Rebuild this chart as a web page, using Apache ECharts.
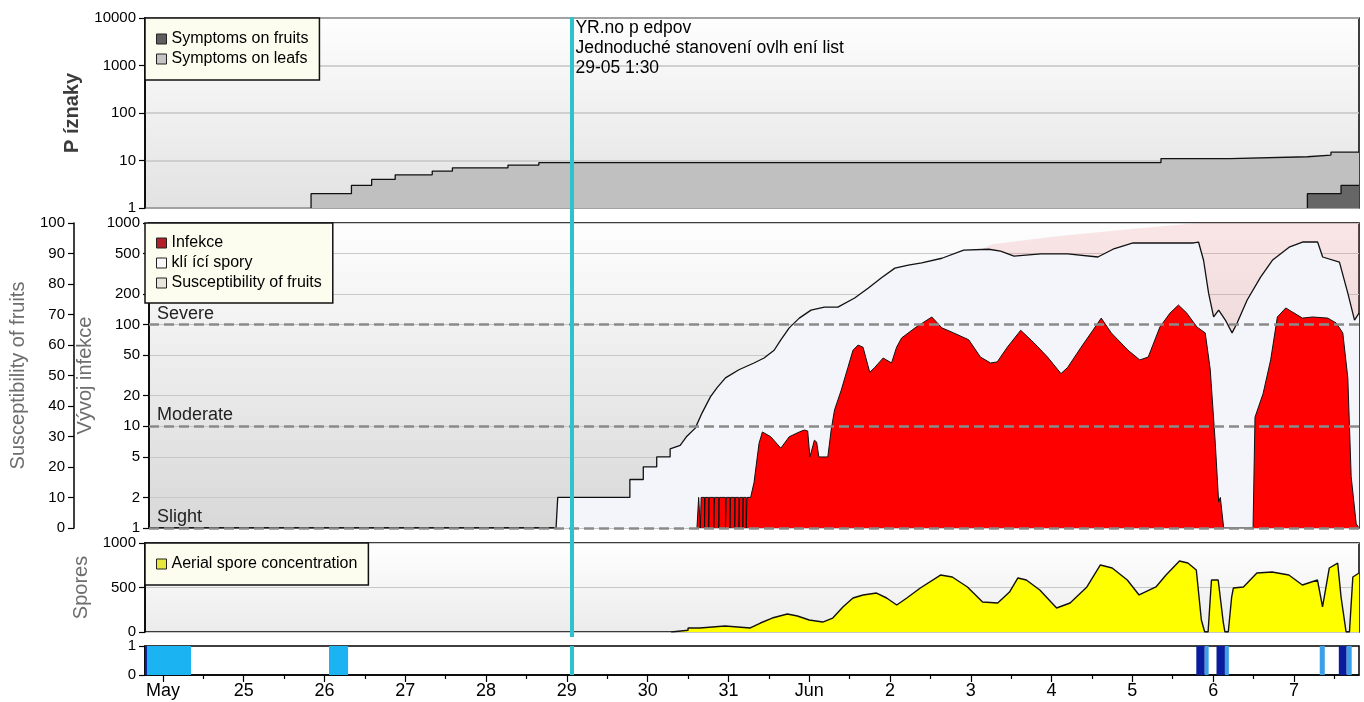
<!DOCTYPE html>
<html>
<head>
<meta charset="utf-8">
<title>Příznaky / Vývoj infekce</title>
<script src="https://cdn.jsdelivr.net/npm/echarts@6/dist/echarts.min.js"></script>
<style>
  html, body { margin: 0; padding: 0; background: #fff; }
  #chart { width: 1364px; height: 702px; }
</style>
</head>
<body>
<div id="chart"></div>
<script>
const YEAR = 2014
const FONT = '"Liberation Sans", Arial, sans-serif'

// time range of the x axis and the forecast marker
const axisStart = '05-23 18:40'
const axisEnd = '06-07 19:20'
const forecastTime = '05-29 01:30'
const forecastNote = ['YR.no p edpov', 'Jednoduché stanovení ovlh ení list', '29-05 1:30']

// x tick labels
const dayStarts = ['05-24', '05-25', '05-26', '05-27', '05-28', '05-29', '05-30', '05-31', '06-01', '06-02', '06-03', '06-04', '06-05', '06-06', '06-07']
const dayLabels = ['May', '25', '26', '27', '28', '29', '30', '31', 'Jun', '2', '3', '4', '5', '6', '7']

// y tick labels
const infectionTicks = [1, 2, 5, 10, 20, 50, 100, 200, 500, 1000]
const severityLevels = [1, 10, 100]
const severityLabels = ['Slight', 'Moderate', 'Severe']

// panel 1: symptoms (steps, value holds from the given time)
const leafSymptoms = [
  ['05-25 20:00', 1], ['05-25 20:00', 2], ['05-26 08:00', 3], ['05-26 14:00', 4], ['05-26 21:00', 5],
  ['05-27 08:00', 6], ['05-27 14:00', 7], ['05-28 06:30', 8], ['05-28 15:40', 9], ['06-05 08:30', 11],
  ['06-06 05:00', 12], ['06-07 04:00', 13], ['06-07 11:00', 15], ['06-07 19:20', 15]
]
const fruitSymptoms = [
  ['06-07 04:00', 1], ['06-07 04:00', 2], ['06-07 14:00', 3], ['06-07 19:20', 3]
]

// panel 2: infection development
const sporeGermination = [
  ['05-23 18:40', 1], ['05-28 20:00', 1], ['05-28 20:30', 2], ['05-29 18:00', 2], ['05-29 18:00', 3],
  ['05-29 22:00', 3], ['05-29 22:00', 4], ['05-30 02:00', 4], ['05-30 02:00', 5], ['05-30 06:00', 5],
  ['05-30 06:00', 6], ['05-30 09:00', 6.5], ['05-30 11:00', 8], ['05-30 13:30', 9.6], ['05-30 15:30', 13.5],
  ['05-30 18:00', 19.5], ['05-30 20:00', 24], ['05-30 22:30', 30], ['05-31 02:30', 36], ['05-31 07:00', 42],
  ['05-31 10:00', 47], ['05-31 13:00', 56], ['05-31 15:00', 71], ['05-31 17:30', 93], ['05-31 20:30', 116],
  ['06-01 00:00', 139], ['06-01 04:00', 149], ['06-01 08:00', 149], ['06-01 13:00', 183], ['06-01 17:00', 228],
  ['06-01 21:00', 289], ['06-02 01:00', 360], ['06-02 05:00', 386], ['06-02 09:00', 405], ['06-02 15:00', 450],
  ['06-02 21:30', 540], ['06-03 05:00', 552], ['06-03 08:30', 530], ['06-03 12:30', 473], ['06-03 20:30', 496],
  ['06-04 04:30', 496], ['06-04 13:30', 463], ['06-04 18:00', 552], ['06-05 00:00', 636], ['06-05 08:00', 636],
  ['06-05 18:00', 636], ['06-05 19:30', 650], ['06-05 21:00', 430], ['06-05 22:30', 204], ['06-06 00:00', 119],
  ['06-06 01:30', 139], ['06-06 03:30', 111], ['06-06 05:30', 83], ['06-06 07:00', 104], ['06-06 10:00', 175],
  ['06-06 14:00', 294], ['06-06 17:30', 430], ['06-06 22:30', 578], ['06-07 02:30', 650], ['06-07 07:00', 650],
  ['06-07 08:30', 463], ['06-07 13:30', 413], ['06-07 16:00', 204], ['06-07 18:00', 111], ['06-07 19:20', 130]
]
const infection = [
  ['05-30 14:00', 1], ['05-30 14:30', 1], ['05-30 14:30', 2], ['05-30 15:00', 2], ['05-30 15:00', 1],
  ['05-30 15:15', 1], ['05-30 15:15', 2], ['05-30 16:15', 2], ['05-30 16:15', 1], ['05-30 16:25', 1],
  ['05-30 16:25', 2], ['05-30 17:30', 2], ['05-30 17:30', 1], ['05-30 17:40', 1], ['05-30 17:40', 2],
  ['05-30 19:00', 2], ['05-30 19:00', 1], ['05-30 19:15', 1], ['05-30 19:15', 2], ['05-30 20:30', 2],
  ['05-30 20:30', 1], ['05-30 20:40', 1], ['05-30 20:40', 2], ['05-30 22:30', 2], ['05-30 22:30', 1],
  ['05-30 22:45', 1], ['05-30 22:45', 2], ['05-30 23:50', 2], ['05-30 23:50', 1], ['05-31 00:00', 1],
  ['05-31 00:00', 2], ['05-31 01:15', 2], ['05-31 01:15', 1], ['05-31 01:25', 1], ['05-31 01:25', 2],
  ['05-31 02:30', 2], ['05-31 02:30', 1], ['05-31 02:45', 1], ['05-31 02:45', 2], ['05-31 03:40', 2],
  ['05-31 03:40', 1], ['05-31 03:50', 1], ['05-31 03:50', 2], ['05-31 04:40', 2], ['05-31 04:40', 1],
  ['05-31 04:55', 1], ['05-31 04:55', 2], ['05-31 06:00', 2],
  ['05-31 07:00', 2.8], ['05-31 08:30', 6.8], ['05-31 09:30', 8.8], ['05-31 10:00', 9.2], ['05-31 12:00', 7.9],
  ['05-31 15:00', 6.1], ['05-31 17:30', 7.9], ['05-31 20:30', 8.8], ['05-31 22:00', 9.2], ['05-31 23:00', 9],
  ['05-31 23:40', 5], ['06-01 01:00', 7.3], ['06-01 01:40', 7], ['06-01 02:20', 5], ['06-01 05:00', 5],
  ['06-01 06:00', 9.2], ['06-01 07:00', 14.5], ['06-01 09:00', 22.7], ['06-01 11:00', 38], ['06-01 12:30', 56],
  ['06-01 14:00', 63], ['06-01 15:30', 60], ['06-01 17:30', 34], ['06-01 19:00', 38], ['06-01 21:30', 47],
  ['06-02 00:00', 42], ['06-02 01:30', 60], ['06-02 03:00', 74], ['06-02 07:00', 93], ['06-02 12:00', 119],
  ['06-02 15:00', 93], ['06-02 18:30', 83], ['06-02 23:00', 71], ['06-03 02:30', 48], ['06-03 05:30', 42],
  ['06-03 07:30', 43], ['06-03 10:30', 60], ['06-03 14:30', 88], ['06-03 18:30', 66], ['06-03 22:30', 48],
  ['06-04 02:30', 33], ['06-04 04:30', 38], ['06-04 08:30', 60], ['06-04 12:00', 88], ['06-04 14:30', 116],
  ['06-04 17:30', 83], ['06-04 22:30', 56], ['06-05 02:00', 45], ['06-05 04:30', 48], ['06-05 08:00', 95],
  ['06-05 11:00', 130], ['06-05 13:30', 156], ['06-05 16:00', 130], ['06-05 19:00', 95], ['06-05 21:30', 83],
  ['06-05 23:00', 36], ['06-06 00:30', 6.8], ['06-06 01:30', 1.8], ['06-06 02:00', 2], ['06-06 02:30', 2],
  ['06-06 03:00', 1], ['06-06 11:45', 1], ['06-06 12:20', 12.3], ['06-06 14:45', 21], ['06-06 17:00', 45],
  ['06-06 19:00', 119], ['06-06 21:30', 146], ['06-06 23:30', 133], ['06-07 02:30', 116], ['06-07 05:30', 119],
  ['06-07 10:00', 116], ['06-07 12:30', 104], ['06-07 14:30', 83], ['06-07 16:00', 30], ['06-07 17:00', 3.2],
  ['06-07 18:30', 1.1], ['06-07 19:20', 1]
]
const fruitSusceptibility = [
  ['05-23 18:40', 0], ['05-30 12:00', 0], ['05-31 12:00', 35], ['06-01 12:00', 65], ['06-02 12:00', 84],
  ['06-03 06:00', 93], ['06-04 00:00', 95.5], ['06-04 18:00', 97.5], ['06-05 12:00', 99.3], ['06-05 20:00', 100],
  ['06-07 19:20', 100]
]

// panel 3: aerial spores
const aerialSpores = [
  ['05-30 07:00', 0], ['05-30 07:00', 20], ['05-30 12:00', 20], ['05-30 12:00', 45], ['05-30 15:30', 45],
  ['05-30 15:30', 67], ['05-30 23:00', 67], ['05-30 23:00', 45], ['05-31 06:30', 45], ['05-31 09:30', 101],
  ['05-31 13:00', 157], ['05-31 17:30', 202], ['05-31 20:30', 180], ['06-01 00:00', 135], ['06-01 04:00', 112],
  ['06-01 07:00', 157], ['06-01 10:00', 281], ['06-01 13:00', 382], ['06-01 16:00', 416], ['06-01 20:00', 438],
  ['06-01 23:00', 382], ['06-02 02:00', 303], ['06-02 05:00', 382], ['06-02 09:00', 494], ['06-02 15:00', 640],
  ['06-02 18:30', 618], ['06-02 23:00', 506], ['06-03 03:30', 337], ['06-03 08:00', 326], ['06-03 11:30', 449],
  ['06-03 14:00', 607], ['06-03 16:30', 584], ['06-03 20:30', 472], ['06-04 01:30', 270], ['06-04 05:30', 326],
  ['06-04 10:30', 506], ['06-04 14:30', 753], ['06-04 18:00', 719], ['06-04 22:30', 584], ['06-05 02:00', 416],
  ['06-05 07:00', 506], ['06-05 10:00', 640], ['06-05 14:00', 798], ['06-05 16:30', 775], ['06-05 19:00', 697],
  ['06-05 20:30', 135], ['06-05 21:30', 0], ['06-05 22:30', 0], ['06-05 23:30', 584], ['06-06 01:30', 584],
  ['06-06 03:00', 112], ['06-06 03:30', 0], ['06-06 04:30', 0], ['06-06 05:30', 393], ['06-06 06:00', 494],
  ['06-06 09:00', 506], ['06-06 13:00', 663], ['06-06 17:30', 674], ['06-06 22:30', 640], ['06-07 02:30', 528],
  ['06-07 07:00', 584], ['06-07 08:30', 281], ['06-07 09:00', 270], ['06-07 10:30', 719], ['06-07 13:00', 775],
  ['06-07 14:00', 393], ['06-07 15:30', 0], ['06-07 16:30', 0], ['06-07 17:30', 618], ['06-07 19:20', 663]
]

// panel 4: wetness strip [from, to, level]
const wetness = [
  ['05-23 18:40', '05-23 19:15', 1], ['05-23 19:15', '05-24 08:20', 0], ['05-26 01:20', '05-26 07:00', 0],
  ['06-05 19:00', '06-05 21:30', 1], ['06-05 21:30', '06-05 22:40', 2],
  ['06-06 01:00', '06-06 03:30', 1], ['06-06 03:30', '06-06 04:40', 2],
  ['06-07 07:40', '06-07 09:10', 2],
  ['06-07 13:20', '06-07 15:40', 1], ['06-07 15:40', '06-07 17:10', 2]
]
const wetnessColors = ['#1cb3f3', '#0a1c9c', '#3d9fe8']

function t(s) {
  const [md, hm] = s.split(' ')
  const [mo, d] = md.split('-').map(Number)
  const [h, mi] = hm.split(':').map(Number)
  return new Date(YEAR, mo - 1, d, h, mi).getTime()
}
const pts = arr => arr.map(([s, v]) => [t(s), v])

const X_MIN = t(axisStart)
const X_MAX = t(axisEnd)
const dayTicks = dayStarts.map(d => t(d + ' 00:00'))
const noonTicks = dayStarts.map(d => t(d + ' 12:00'))

const bg = (c0, c1) => new echarts.graphic.LinearGradient(0, 0, 0, 1, [
  { offset: 0, color: c0 }, { offset: 1, color: c1 }
])
const gridBase = { left: 145, right: 5, show: true, borderColor: '#000', borderWidth: 1.5 }
const plain = v => String(Math.round(v))

// x axes are value axes holding timestamps, so tick positions can be given exactly
const hiddenX = (i) => ({
  type: 'value', gridIndex: i, min: X_MIN, max: X_MAX,
  axisLine: { show: false }, axisTick: { show: false }, axisLabel: { show: false }, splitLine: { show: false }
})
const yBase = {
  axisLine: { show: true, lineStyle: { color: '#000', width: 1.5 } },
  axisTick: { show: true, length: 6, lineStyle: { color: '#000', width: 1.2 } },
  axisLabel: { color: '#000', fontSize: 15, fontFamily: FONT, margin: 9, formatter: plain },
  splitLine: { show: true, lineStyle: { color: '#c8c8c8', width: 1.2 } },
  nameLocation: 'middle', nameRotate: 90,
  nameTextStyle: { fontSize: 20, fontFamily: FONT, color: '#6e6e6e' }
}
const legendBase = {
  orient: 'vertical', left: 145, icon: 'rect', itemWidth: 10, itemHeight: 10, itemGap: 2,
  selectedMode: false, backgroundColor: '#fdfdef', borderColor: '#111', borderWidth: 1.5,
  textStyle: { fontSize: 16, fontFamily: FONT, color: '#000', lineHeight: 18 }
}
const legendItem = (name, color) => ({ name, itemStyle: { color, borderColor: '#222', borderWidth: 1 } })
const cyanLine = {
  silent: true, symbol: 'none', label: { show: false },
  lineStyle: { color: '#2ec3cc', width: 4, type: 'solid' },
  data: [{ xAxis: t(forecastTime) }]
}

const chart = echarts.init(document.getElementById('chart'))
chart.setOption({
  animation: false,
  backgroundColor: '#fff',
  grid: [
    { ...gridBase, top: 18, height: 190, backgroundColor: bg('#fefefe', '#e2e2e2') },
    { ...gridBase, top: 223, height: 305, backgroundColor: bg('#fefefe', '#d8d8d8') },
    { ...gridBase, top: 543, height: 89, backgroundColor: bg('#ffffff', '#ebebeb') },
    { ...gridBase, top: 646, height: 29, backgroundColor: '#fff' },
    { left: 145, right: 5, top: 17, height: 620, show: false }
  ],
  xAxis: [
    hiddenX(0), hiddenX(1), hiddenX(2),
    {
      type: 'value', gridIndex: 3, position: 'bottom', min: X_MIN, max: X_MAX,
      axisLine: { show: true, lineStyle: { color: '#000', width: 1.5 } },
      axisTick: { show: true, customValues: dayTicks, length: 7, lineStyle: { color: '#000', width: 1.2 } },
      axisLabel: {
        show: true, customValues: dayTicks, margin: 7, color: '#000', fontSize: 18, fontFamily: FONT,
        formatter: v => {
          const i = dayTicks.findIndex(d => Math.abs(d - v) < 60000)
          return i < 0 ? '' : dayLabels[i]
        }
      },
      splitLine: { show: false }
    },
    hiddenX(4),
    {
      ...hiddenX(3), position: 'bottom',
      axisTick: { show: true, customValues: noonTicks, length: 4, lineStyle: { color: '#000', width: 1.2 } }
    }
  ],
  yAxis: [
    {
      ...yBase, type: 'log', logBase: 10, gridIndex: 0, min: 1, max: 10000,
      name: 'P íznaky', nameGap: 63,
      nameTextStyle: { fontSize: 20, fontFamily: FONT, color: '#3c3c3c', fontWeight: 'bold' },
      splitLine: { show: true, lineStyle: { color: '#c4c4c4', width: 1.5 } }
    },
    {
      ...yBase, type: 'log', logBase: 10, gridIndex: 1, min: 1, max: 1000,
      name: 'Vývoj infekce', nameGap: 52,
      axisTick: { ...yBase.axisTick, customValues: infectionTicks },
      axisLabel: { ...yBase.axisLabel, customValues: infectionTicks },
      splitLine: { show: true, lineStyle: { color: '#c8c8c8', width: 1.2 } }
    },
    {
      ...yBase, type: 'value', gridIndex: 1, position: 'left', offset: 75, min: 0, max: 100, interval: 10,
      name: 'Susceptibility of fruits', nameGap: 46,
      splitLine: { show: false }
    },
    {
      ...yBase, type: 'value', gridIndex: 2, min: 0, max: 1000, interval: 500,
      name: 'Spores', nameGap: 52
    },
    {
      ...yBase, type: 'value', gridIndex: 3, min: 0, max: 1, interval: 1,
      splitLine: { show: false }
    },
    { type: 'value', gridIndex: 4, min: 0, max: 1, show: false }
  ],
  legend: [
    {
      ...legendBase, top: 18, padding: [12, 11, 12, 11],
      data: [legendItem('Symptoms on fruits', '#5e5e5e'), legendItem('Symptoms on leafs', '#c4c4c4')]
    },
    {
      ...legendBase, top: 223, padding: [11, 11, 11, 11],
      data: [legendItem('Infekce', '#b3202a'), legendItem('klí ící spory', '#f8f8f8'), legendItem('Susceptibility of fruits', '#e8e6da')]
    },
    {
      ...legendBase, top: 543, padding: [12, 11, 12, 11],
      data: [legendItem('Aerial spore concentration', '#e6e63c')]
    }
  ],
  series: [
    {
      name: 'Symptoms on leafs', type: 'line', xAxisIndex: 0, yAxisIndex: 0, step: 'end', symbol: 'none',
      data: pts(leafSymptoms), itemStyle: { color: '#c0c0c0' },
      lineStyle: { color: '#111', width: 1.3 }, areaStyle: { color: '#c0c0c0', opacity: 1, origin: 'start' }, z: 2
    },
    {
      name: 'Symptoms on fruits', type: 'line', xAxisIndex: 0, yAxisIndex: 0, step: 'end', symbol: 'none',
      data: pts(fruitSymptoms), itemStyle: { color: '#666' },
      lineStyle: { color: '#111', width: 1.3 }, areaStyle: { color: '#666', opacity: 1, origin: 'start' }, z: 3
    },
    {
      name: 'Susceptibility of fruits', type: 'line', xAxisIndex: 1, yAxisIndex: 2, symbol: 'none',
      data: pts(fruitSusceptibility), itemStyle: { color: '#e8e6da' },
      lineStyle: { width: 0 }, areaStyle: { color: 'rgba(240,120,130,0.26)', origin: 'start' }, z: 1
    },
    {
      name: 'klí ící spory', type: 'line', xAxisIndex: 1, yAxisIndex: 1, symbol: 'none',
      data: pts(sporeGermination), itemStyle: { color: '#f4f4fb' },
      lineStyle: { color: '#111', width: 1.3 }, areaStyle: { color: '#f4f4fb', opacity: 1, origin: 'start' }, z: 2
    },
    {
      name: 'Infekce', type: 'line', xAxisIndex: 1, yAxisIndex: 1, symbol: 'none',
      data: pts(infection), itemStyle: { color: '#ff0000' },
      lineStyle: { color: '#111', width: 1 }, areaStyle: { color: '#ff0000', opacity: 1, origin: 'start' }, z: 3,
      markLine: {
        silent: true, symbol: 'none',
        lineStyle: { color: '#8a8a8a', width: 2.5, type: [10, 5] },
        label: { position: 'insideStartTop', color: '#222', fontSize: 18, fontFamily: FONT, distance: [8, 2] },
        data: severityLevels.map((v, i) => ({ yAxis: v, label: { formatter: severityLabels[i] } }))
      }
    },
    {
      name: 'Aerial spore concentration', type: 'line', xAxisIndex: 2, yAxisIndex: 3, symbol: 'none',
      data: pts(aerialSpores), itemStyle: { color: '#ffff00' },
      lineStyle: { color: '#111', width: 1.4 }, areaStyle: { color: '#ffff00', opacity: 1, origin: 'start' }, z: 2
    },
    {
      name: 'wetness', type: 'custom', xAxisIndex: 3, yAxisIndex: 4,
      data: wetness.map(([a, b, c]) => [t(a), t(b), c]),
      encode: { x: [0, 1] },
      renderItem: (params, api) => {
        const p0 = api.coord([api.value(0), 1])
        const p1 = api.coord([api.value(1), 0])
        return {
          type: 'rect',
          shape: { x: p0[0], y: p0[1], width: p1[0] - p0[0], height: p1[1] - p0[1] },
          style: { fill: wetnessColors[api.value(2)] }
        }
      }
    },
    {
      name: 'forecast', type: 'line', xAxisIndex: 4, yAxisIndex: 5, data: [], z: 10,
      markLine: cyanLine,
      markPoint: {
        silent: true, symbol: 'rect', symbolSize: 1, itemStyle: { color: 'rgba(0,0,0,0)' },
        data: [{ coord: [t(forecastTime), 1] }],
        label: {
          show: true, position: [4, 2], align: 'left', verticalAlign: 'top',
          color: '#000', fontSize: 17.5, fontFamily: FONT, lineHeight: 20,
          formatter: forecastNote.join('\n')
        }
      }
    },
    { name: 'forecast2', type: 'line', xAxisIndex: 3, yAxisIndex: 4, data: [], z: 10, markLine: cyanLine }
  ]
})
</script>
</body>
</html>
